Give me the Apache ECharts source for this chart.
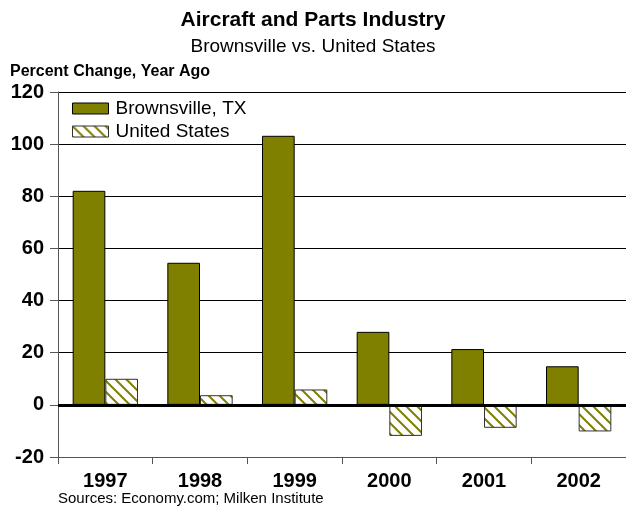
<!DOCTYPE html>
<html>
<head>
<meta charset="utf-8">
<script src="https://cdn.jsdelivr.net/npm/echarts@6/dist/echarts.min.js"></script>
<style>
  html, body { margin: 0; padding: 0; background: #fff; }
  #chart { width: 626px; height: 508px; }
</style>
</head>
<body>
<div id="chart"></div>
<script>
// 数据
const years = ['1997', '1998', '1999', '2000', '2001', '2002']
const brownsville = [82.1, 54.5, 103.2, 28, 21.4, 14.8]
const unitedStates = [10, 3.7, 5.9, -11.9, -8.8, -10.2]

// 斜线填充
const makeHatch = () => {
  const size = 11
  const c = document.createElement('canvas')
  c.width = size
  c.height = size
  const ctx = c.getContext('2d')
  ctx.fillStyle = '#fff'
  ctx.fillRect(0, 0, size, size)
  ctx.strokeStyle = '#808000'
  ctx.lineWidth = 2
  ctx.beginPath()
  ctx.moveTo(-2, -2)
  ctx.lineTo(size + 2, size + 2)
  ctx.moveTo(-2, size - 2)
  ctx.lineTo(2, size + 2)
  ctx.moveTo(size - 2, -2)
  ctx.lineTo(size + 2, 2)
  ctx.stroke()
  return c
}

const chart = echarts.init(document.getElementById('chart'))
const font = 'Liberation Sans, Arial, sans-serif'

const options = {
  animation: false,
  backgroundColor: '#fff',
  textStyle: { fontFamily: font },
  title: [
    {
      text: 'Aircraft and Parts Industry',
      left: 'center',
      top: 5,
      textStyle: { fontSize: 21, fontWeight: 'bold', color: '#000', fontFamily: font }
    },
    {
      text: 'Brownsville vs. United States',
      left: 'center',
      top: 32,
      textStyle: { fontSize: 19, fontWeight: 'normal', color: '#000', fontFamily: font }
    },
    {
      text: 'Percent Change, Year Ago',
      left: 5,
      top: 59,
      textStyle: { fontSize: 16, fontWeight: 'bold', color: '#000', fontFamily: font }
    },
    {
      text: 'Sources: Economy.com; Milken Institute',
      left: 53,
      top: 486,
      textStyle: { fontSize: 15, fontWeight: 'normal', color: '#000', fontFamily: font }
    }
  ],
  legend: {
    orient: 'vertical',
    left: 67,
    top: 94,
    itemWidth: 36,
    itemHeight: 11,
    itemGap: 4,
    icon: 'rect',
    data: ['Brownsville, TX', 'United States'],
    itemStyle: { borderWidth: 1 },
    textStyle: { fontSize: 19, color: '#000', fontFamily: font, padding: [0, 0, 0, 2] }
  },
  grid: {
    left: 58,
    top: 92,
    width: 579,
    bottom: 51,
    containLabel: false
  },
  xAxis: {
    type: 'category',
    data: years,
    axisLine: { onZero: false, lineStyle: { color: '#555', width: 1 } },
    axisTick: { show: true, length: 7, lineStyle: { color: '#555' } },
    axisLabel: { fontSize: 20, fontWeight: 'bold', color: '#000', margin: 14, fontFamily: font }
  },
  yAxis: {
    type: 'value',
    min: -20,
    max: 120,
    interval: 20,
    axisLine: { show: true, lineStyle: { color: '#555', width: 1 } },
    axisTick: { show: true, length: 8, lineStyle: { color: '#555' } },
    axisLabel: { fontSize: 20, fontWeight: 'bold', color: '#000', margin: 14, fontFamily: font },
    splitLine: { show: true, lineStyle: { color: '#000', width: 1 } }
  },
  series: [
    {
      name: 'Brownsville, TX',
      type: 'bar',
      data: brownsville,
      barGap: '0%',
      barCategoryGap: '31%',
      itemStyle: { color: '#808000', borderColor: '#000', borderWidth: 1 },
      markLine: {
        silent: true,
        symbol: 'none',
        label: { show: false },
        lineStyle: { color: '#000', width: 3, type: 'solid' },
        data: [{ yAxis: 0 }]
      }
    },
    {
      name: 'United States',
      type: 'bar',
      data: unitedStates,
      itemStyle: {
        color: { image: makeHatch(), repeat: 'repeat' },
        borderColor: '#333',
        borderWidth: 1
      }
    }
  ]
}

chart.setOption(options)
</script>
</body>
</html>
